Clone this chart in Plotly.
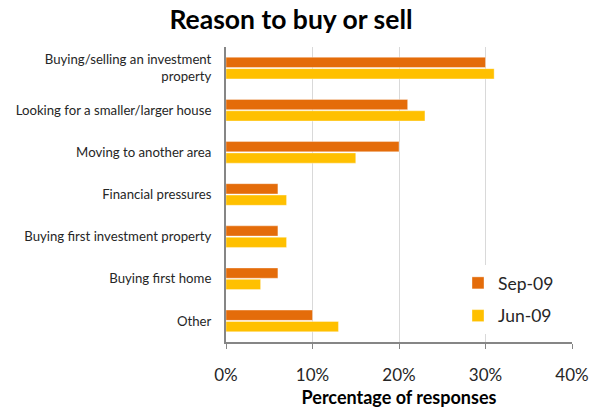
import plotly.graph_objects as go

categories = [
    "Buying/selling an investment<br>property",
    "Looking for a smaller/larger house",
    "Moving to another area",
    "Financial pressures",
    "Buying first investment property",
    "Buying first home",
    "Other",
]
sep_09 = [30, 21, 20, 6, 6, 6, 10]
jun_09 = [31, 23, 15, 7, 7, 4, 13]
x_ticks = [0, 10, 20, 30, 40]
x_tick_labels = ["0%", "10%", "20%", "30%", "40%"]

FONT = "Lato, 'Open Sans', sans-serif"

fig = go.Figure()
fig.add_trace(go.Bar(
    y=categories, x=sep_09, name="Sep-09", orientation="h",
    marker=dict(color="#E46C0A", line=dict(color="rgba(255,255,255,0.6)", width=0.6)),
    legendgroup="a",
))
fig.add_trace(go.Bar(
    y=categories, x=jun_09, name="Jun-09", orientation="h",
    marker=dict(color="#FFC000", line=dict(color="rgba(255,255,255,0.6)", width=0.6)),
    legendgroup="b",
))

fig.update_layout(
    width=595, height=408,
    margin=dict(l=226, r=23, t=47, b=66),
    paper_bgcolor="white", plot_bgcolor="white",
    barmode="group", bargap=0.46, bargroupgap=0.1,
    font=dict(family=FONT, color="#262626"),
    title=dict(text="<b>Reason to buy or sell</b>", x=291 / 595, xanchor="center",
               y=1 - 20 / 408, yanchor="middle",
               font=dict(size=26.5, color="#000000", family=FONT)),
    showlegend=True,
    legend=dict(
        x=(458 - 226) / 346, y=(342 - 265) / 295, xanchor="left", yanchor="top",
        bgcolor="white", font=dict(size=17.5, color="#262626"),
        traceorder="grouped", tracegroupgap=7,
        itemwidth=30,
    ),
    xaxis=dict(
        range=[0, 40], tickvals=x_ticks, ticktext=x_tick_labels,
        showgrid=True, gridcolor="#D9D9D9", gridwidth=1,
        showline=True, linecolor="#868686", linewidth=2,
        ticks="outside", ticklen=5, tickcolor="#868686", tickwidth=1,
        tickfont=dict(size=17, color="#262626"), ticklabelstandoff=12,
        title=dict(text="<b>Percentage of responses</b>", standoff=12,
                   font=dict(size=18, color="#000000")),
        zeroline=False, fixedrange=True, automargin=False,
    ),
    yaxis=dict(
        autorange="reversed", showgrid=False,
        showline=True, linecolor="#868686", linewidth=2,
        ticks="", tickfont=dict(size=13.2, color="#262626"), ticklabelstandoff=10,
        fixedrange=True, automargin=False,
    ),
)

fig.write_html("out.html")
